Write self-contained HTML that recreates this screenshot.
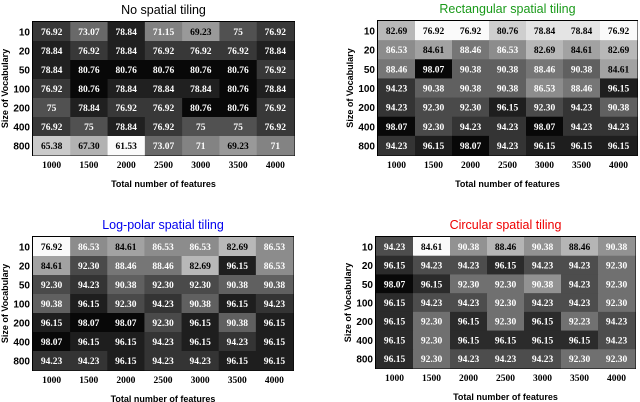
<!DOCTYPE html>
<html><head><meta charset="utf-8"><style>
html,body{margin:0;padding:0;background:#fff;width:640px;height:402px;overflow:hidden}
svg text{font-family:"Liberation Serif",serif}
.s{font-family:"Liberation Sans",sans-serif!important;font-weight:bold}
.tt{font-family:"Liberation Sans",sans-serif!important;font-weight:normal}
</style></head><body>
<svg id="chart" width="640" height="402" xmlns="http://www.w3.org/2000/svg"></svg>
<script>
const xCategories=["1000","1500","2000","2500","3000","3500","4000"];
const yCategories=["10","20","50","100","200","400","800"];
const noSpatial=[
[76.92,73.07,78.84,71.15,69.23,75,76.92],
[78.84,76.92,78.84,76.92,76.92,76.92,78.84],
[78.84,80.76,80.76,80.76,80.76,80.76,76.92],
[76.92,80.76,78.84,78.84,78.84,80.76,78.84],
[75,78.84,76.92,76.92,80.76,80.76,76.92],
[76.92,75,78.84,76.92,75,75,76.92],
[65.38,67.30,61.53,73.07,71,69.23,71]];
const rectangular=[
[82.69,76.92,76.92,80.76,78.84,78.84,76.92],
[86.53,84.61,88.46,86.53,82.69,84.61,82.69],
[88.46,98.07,90.38,90.38,88.46,90.38,84.61],
[94.23,90.38,90.38,90.38,86.53,88.46,96.15],
[94.23,92.30,92.30,96.15,92.30,94.23,90.38],
[98.07,92.30,94.23,94.23,98.07,94.23,94.23],
[94.23,96.15,98.07,94.23,96.15,96.15,96.15]];
const logPolar=[
[76.92,86.53,84.61,86.53,86.53,82.69,86.53],
[84.61,92.30,88.46,88.46,82.69,96.15,86.53],
[92.30,94.23,90.38,92.30,92.30,90.38,90.38],
[90.38,96.15,92.30,94.23,90.38,96.15,94.23],
[96.15,98.07,98.07,92.30,96.15,90.38,96.15],
[98.07,96.15,96.15,94.23,96.15,94.23,96.15],
[94.23,94.23,96.15,94.23,94.23,96.15,96.15]];
const circular=[
[94.23,84.61,90.38,88.46,90.38,88.46,90.38],
[96.15,94.23,94.23,96.15,94.23,94.23,92.30],
[98.07,96.15,92.30,92.30,90.38,94.23,92.30],
[96.15,94.23,94.23,92.30,94.23,94.23,92.30],
[96.15,92.30,96.15,92.30,96.15,92.23,94.23],
[96.15,92.30,96.15,96.15,96.15,96.15,94.23],
[96.15,92.30,94.23,94.23,94.23,92.30,92.30]];
const titles=["No spatial tiling","Rectangular spatial tiling","Log-polar spatial tiling","Circular spatial tiling"];
const titleColors=["#000","#1a9a1a","#0000ee","#ee0000"];
const boxes=[{l:33,r:294,t:22,b:155},{l:378,r:637,t:21,b:155},{l:33,r:293,t:237,b:370},{l:376,r:635,t:237,b:368}];
const NS="http://www.w3.org/2000/svg";
const svg=document.getElementById('chart');
function mk(tag,attrs,parent){const e=document.createElementNS(NS,tag);for(const k in attrs)e.setAttribute(k,attrs[k]);(parent||svg).appendChild(e);return e;}
function fmt(v){let s=String(v);if(/\.\d$/.test(s))s+="0";return s;}
function draw(p,data){
  const b=boxes[p];
  const g=mk('g',{});
  
  
  const flat=data.flat();const mn=Math.min(...flat),mx=Math.max(...flat);
  const cw=(b.r-b.l)/xCategories.length,ch=(b.b-b.t)/yCategories.length;
  const xS=i=>b.l+i*cw, yS=j=>b.t+j*ch;
  const bg=mk('rect',{x:b.l-1,y:b.t-1,width:b.r-b.l+2,height:b.b-b.t+2,fill:'#000'},g);
  
  
  data.forEach((row,j)=>row.forEach((v,i)=>{
    const f=(v-mn)/(mx-mn);const gv=Math.round(255*(1-f)*0.95+8);
    const r=mk('rect',{x:xS(i),y:yS(j),width:cw+0.5,height:ch+0.5,fill:`rgb(${gv},${gv},${gv})`},g);
    
    
    const t=mk('text',{x:xS(i)+cw/2,y:yS(j)+ch/2+3.5,'text-anchor':'middle','font-size':'9.5','font-weight':'bold',fill:gv>150?'#000':'#fff'},g);
    t.textContent=fmt(v);
    
    
  }));
  const ti=mk('text',{x:(b.l+b.r)/2,y:b.t-8,'text-anchor':'middle','font-size':'12.5',fill:titleColors[p],class:'tt'},g);
  ti.textContent=titles[p];
  
  
  xCategories.forEach((c,i)=>{
    const t=mk('text',{x:xS(i)+cw/2,y:b.b+13,'text-anchor':'middle','font-size':'9.5','font-weight':'bold'},g);
    t.textContent=c;
    
    
  });
  yCategories.forEach((c,j)=>{
    const t=mk('text',{x:b.l-3,y:yS(j)+ch/2+4,'text-anchor':'end','font-size':'10',class:'s'},g);
    t.textContent=c;
    
    
  });
  const xt=mk('text',{x:(b.l+b.r)/2,y:b.b+32,'text-anchor':'middle','font-size':'9',class:'s'},g);
  xt.textContent='Total number of features';
  
  
  const yx=b.l-25,yy=(b.t+b.b)/2;
  const yt=mk('text',{x:yx,y:yy,'text-anchor':'middle','font-size':'9',class:'s',transform:`rotate(-90 ${yx} ${yy})`},g);
  yt.textContent='Size of Vocabulary';
  
  
}
[noSpatial,rectangular,logPolar,circular].forEach((d,p)=>draw(p,d));
</script>
</body></html>
